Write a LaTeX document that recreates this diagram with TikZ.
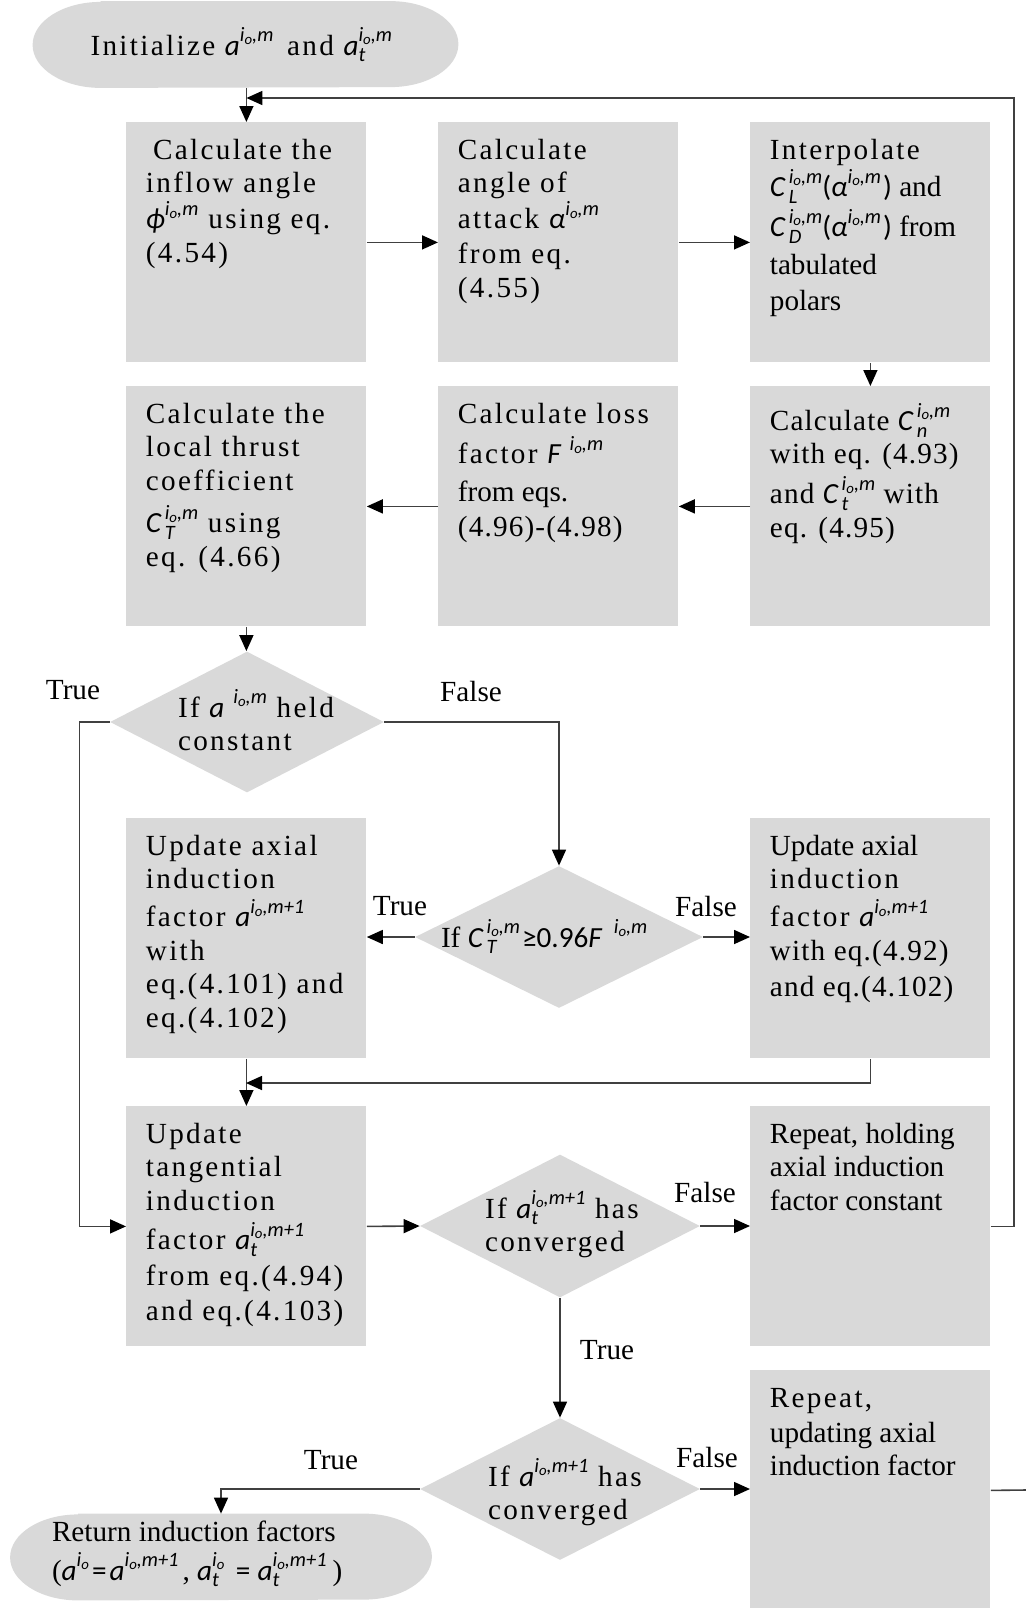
\documentclass[tikz,border=0pt]{standalone}
\usepackage{fontspec}
\setmainfont{Liberation Serif}
\newfontfamily\spc{Liberation Serif}[LetterSpace=8]
\newfontfamily\spcl{Liberation Serif}[LetterSpace=4]
\newfontfamily\carl{Carlito}
\usetikzlibrary{arrows.meta,shapes.geometric,backgrounds}
\definecolor{boxgray}{RGB}{217,217,217}
\definecolor{linegray}{RGB}{64,64,64}

% italic variable, superscript, subscript, stacked scripts
\newcommand\vv[1]{{\carl\itshape #1}}
\newcommand\supfont{\fontsize{10.2}{10.2}\selectfont\carl\itshape}
\newcommand\io{i\raisebox{-1.3pt}{\fontsize{7.4}{7.4}\selectfont o}}
\newcommand\spr[1]{\raisebox{6.6pt}{\supfont #1}}
\newcommand\sbs[1]{\raisebox{-3.4pt}{\supfont #1}}
\newcommand\sps[2]{\rlap{\sbs{#2}}\spr{#1}}
\newcommand\cc[2]{\vv{C}\kern1.8pt\sps{#1}{#2}}
% top-aligned text block inside a process box
\newcommand\boxtxt[2][18.5pt]{\parbox[c][120pt][t]{120pt}{\raggedright\leftskip=9.75pt\parindent=0pt\lineskiplimit=-20pt\hbadness=10000\rule{0pt}{#1}#2}}
% zero-size text block: left edge dx and last baseline dy from the node centre
\newcommand\placetext[3]{\makebox[0pt][l]{\hspace*{#1}\raisebox{#2}[0pt][0pt]{\vbox{\lineskiplimit=-20pt\baselineskip=16.5pt #3}}}}
% terminator outline with elliptic ends
\newcommand\termfill[1]{\fill[boxgray] ([xshift=34pt]#1.north west) -- ([xshift=-34pt]#1.north east) arc[start angle=90,end angle=-90,x radius=34pt,y radius=21.5pt] -- ([xshift=34pt]#1.south west) arc[start angle=270,end angle=90,x radius=34pt,y radius=21.5pt] -- cycle;}

\begin{document}
\begin{tikzpicture}[x=0.5pt,y=-0.5pt,
  font=\fontsize{14.6}{16.75}\selectfont,
  procbox/.style={fill=boxgray, inner sep=0pt, minimum width=120pt, minimum height=120pt, anchor=north west},
  decision/.style={diamond, fill=boxgray, inner sep=0pt},
  terminal/.style={inner sep=0pt, minimum height=43pt},
  conn/.style={draw=linegray, line width=0.8pt},
  arr/.style={conn, -{Triangle[length=8pt,width=7pt,color=black]}},
  lbl/.style={inner sep=0pt}]

\useasboundingbox (0,0) rectangle (1026,1608);

% terminals
\node[terminal, minimum width=212.5pt] (start) at (245.5,44.5)
  {\placetext{-77.5pt}{-5.25pt}{\hbox{\spc Initialize \vv{a}\spr{\io,m}\kern2pt{} and \vv{a}\sps{\io,m}{t}}}};
\node[terminal, minimum width=210.5pt] (stop) at (221,1557)
  {\placetext{-84.5pt}{-11.5pt}{\hbox{Return induction factors}\vskip 3pt
   \hbox{(\vv{a}\spr{\io}\kern1.5pt{\carl=}\kern1.5pt\vv{a}\spr{\io,m+1}\kern2pt, \vv{a}\sps{\io}{t}\kern2pt{} {\carl=} \vv{a}\sps{\io,m+1}{t}\kern3pt)}}};
\begin{pgfonlayer}{background}
  \termfill{start}
  \termfill{stop}
\end{pgfonlayer}

% process boxes
\node[procbox] (A) at (126,122) {\boxtxt{\spc\hspace*{3.6pt}Calculate the\\ inflow angle\\[1.25pt] \vv{ϕ}\spr{\io,m}\hspace{5pt}using eq.\\ (4.54)}};
\node[procbox] (B) at (438,122) {\boxtxt{\spc Calculate\\ angle of\\[1.25pt] attack \vv{α}\spr{\io,m}\\[0.75pt] from eq.\\ (4.55)}};
\node[procbox] (C) at (750,122) {\boxtxt{{\spc Interpolate}\\[1.75pt] \cc{\io,m}{L}{\carl(}\vv{α}\spr{\io,m}\kern1pt{\carl)} and\\[3.25pt] \cc{\io,m}{D}{\carl(}\vv{α}\spr{\io,m}\kern1pt{\carl)} from\\[2.25pt] tabulated\\[1.25pt] polars}};
\node[procbox] (D) at (750,386) {\boxtxt[22pt]{\spcl Calculate \cc{\io,m}{n}\\ with eq. (4.93)\\[3.25pt] and \cc{\io,m}{t} with\\ eq. (4.95)}};
\node[procbox] (E) at (438,386) {\boxtxt{{\spc Calculate loss}\\[3.5pt] {\spc factor }\vv{F}\hspace{4.5pt}\spr{\io,m}\\[2.25pt] from eqs.\\[0.75pt] {\spcl (4.96)-(4.98)}}};
\node[procbox] (F) at (126,386) {\boxtxt{\spc Calculate the\\ local thrust\\ coefficient\\[4.5pt] \cc{\io,m}{T} using\\ eq. (4.66)}};
\node[procbox] (LA) at (126,818) {\boxtxt{\spc Update axial\\ induction\\[2.25pt] factor \vv{a}\spr{\io,m+1}\\ with\\ eq.(4.101) and\\ eq.(4.102)}};
\node[procbox] (RA) at (750,818) {\boxtxt[18.5pt]{Update axial\\ {\spc induction}\\[2.25pt] {\spc factor }\vv{a}\spr{\io,m+1}\\ {\spcl with eq.(4.92)}\\[1.25pt] {\spcl and eq.(4.102)}}};
\node[procbox] (T) at (126,1106) {\boxtxt{\spc Update\\ tangential\\ induction\\[2.75pt] factor \vv{a}\sps{\io,m+1}{t}\\[1.25pt] from eq.(4.94)\\[0.75pt] and eq.(4.103)}};
\node[procbox] (RH) at (750,1106) {\boxtxt{Repeat, holding\\ axial induction\\ factor constant}};
\node[procbox] (RU) at (750,1370) {\boxtxt{{\spc Repeat,}\\[0.75pt] updating axial\\ induction factor}};

% decisions
\node[decision, minimum width=137pt, minimum height=70.5pt] (D1) at (247,722)
  {\placetext{-34.5pt}{-14pt}{\hbox{\spc If \vv{a}\hspace{4.5pt}\spr{\io,m} held}\hbox{\spc constant}}};
\node[decision, minimum width=144pt, minimum height=71pt] (D2) at (559,937)
  {\placetext{-59pt}{-5pt}{\hbox{If \cc{\io,m}{T}\kern1pt{\carl ≥0.96}\vv{F}\hspace{6pt}\spr{\io,m}}}};
\node[decision, minimum width=140pt, minimum height=71.5pt] (D3) at (560,1226)
  {\placetext{-37.5pt}{-12.5pt}{\hbox{\spc If \vv{a}\sps{\io,m+1}{t} has}\hbox{\spc converged}}};
\node[decision, minimum width=140pt, minimum height=71pt] (D4) at (560,1489)
  {\placetext{-36pt}{-15pt}{\hbox{\spc If \vv{a}\spr{\io,m+1} has}\hbox{\spc converged}}};

% free ends of connectors
\coordinate (fbTop) at (1014,98);
\coordinate (merge) at (246,1083);
\coordinate (offR) at (1026,1490);

% connectors
\draw[arr] (start.south -| A.north) -- (A.north);
\draw[arr] (RH.east) -| (fbTop) -- (fbTop -| A.north);
\draw[arr] (A.east) -- (B.west);
\draw[arr] (B.east) -- (C.west);
\draw[arr] (C.south) -- (D.north);
\draw[arr] (D.west) -- (E.east);
\draw[arr] (E.west) -- (F.east);
\draw[arr] (F.south) -- (F.south |- D1.north);
\draw[arr] (D1.west) -- ++(-30,0) |- (T.west);
\draw[arr] (D1.east) -| (D2.north);
\draw[arr] (D2.west) -- (D2.west -| LA.east);
\draw[arr] (D2.east) -- (D2.east -| RA.west);
\draw[arr] (LA.south) -- (T.north);
\draw[arr] (RA.south) |- (merge);
\draw[arr] (T.east) -- (D3.west);
\draw[arr] (D3.east) -- (D3.east -| RH.west);
\draw[arr] (D3.south) -- (D4.north);
\draw[arr] (D4.east) -- (D4.east -| RU.west);
\draw[conn] (RU.east) -- (offR);
\draw[arr] (D4.west) -| (stop.north);

% branch labels
\node[lbl] (t1) at (73,690) {True};
\node[lbl] (f1) at (471,691) {False};
\node[lbl] (t2) at (400,906) {True};
\node[lbl] (f2) at (706,906) {False};
\node[lbl] (f3) at (705,1192) {False};
\node[lbl] (t3) at (607,1350) {True};
\node[lbl] (t4) at (331,1460) {True};
\node[lbl] (f4) at (707,1457) {False};
\end{tikzpicture}
\end{document}
